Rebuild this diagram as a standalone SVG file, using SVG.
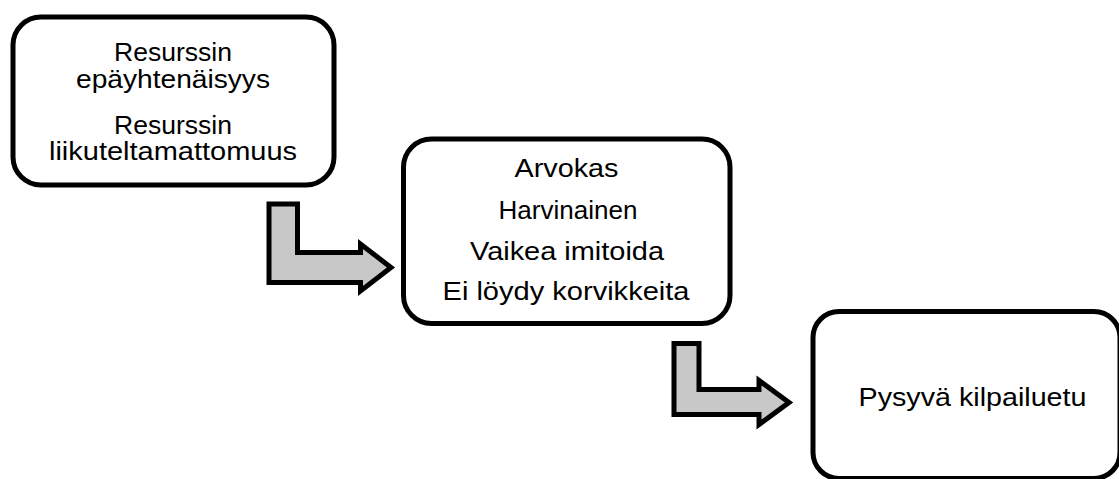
<svg xmlns="http://www.w3.org/2000/svg" width="1119" height="479" viewBox="0 0 1119 479">
<style>
.box{fill:#ffffff;stroke:#000000;stroke-width:5}
.arr{fill:#c8c8c8;stroke:#000000;stroke-width:5;stroke-linejoin:miter;stroke-miterlimit:10}
.t{font-family:"Liberation Sans",Arial,sans-serif;font-size:26.5px;fill:#000000;text-anchor:middle}
</style>
<rect width="1119" height="479" fill="#ffffff"/>
<g id="connectors">
<path class="arr" d="M269,204 L297.5,204 L297.5,252.5 L360.5,252.5 L360.5,244 L391,267.5 L360.5,291 L360.5,282.5 L269,282.5 Z"/>
<path class="arr" d="M674,343.5 L699,343.5 L699,389.5 L759,389.5 L759,380.5 L789,402.5 L759,424.5 L759,414.5 L674,414.5 Z"/>
</g>
<g id="node1">
<rect class="box" x="13" y="17" width="321" height="168" rx="28" ry="28"/>
<text class="t"><tspan x="173" y="61" textLength="118" lengthAdjust="spacingAndGlyphs">Resurssin</tspan><tspan x="173" y="87.5" textLength="194" lengthAdjust="spacingAndGlyphs">epäyhtenäisyys</tspan></text>
<text class="t"><tspan x="173" y="133.5" textLength="118" lengthAdjust="spacingAndGlyphs">Resurssin</tspan><tspan x="173" y="160" textLength="248" lengthAdjust="spacingAndGlyphs">liikuteltamattomuus</tspan></text>
</g>
<g id="node2">
<rect class="box" x="403.5" y="139" width="326.5" height="184.5" rx="28" ry="28"/>
<text class="t" x="566.5" y="176.5" textLength="104" lengthAdjust="spacingAndGlyphs">Arvokas</text>
<text class="t" x="568" y="219" textLength="139" lengthAdjust="spacingAndGlyphs">Harvinainen</text>
<text class="t" x="567" y="260" textLength="194" lengthAdjust="spacingAndGlyphs">Vaikea imitoida</text>
<text class="t" x="566" y="300" textLength="247" lengthAdjust="spacingAndGlyphs">Ei löydy korvikkeita</text>
</g>
<g id="node3">
<rect class="box" x="813" y="311.5" width="307" height="167" rx="26" ry="26"/>
<text class="t" x="972.5" y="406" textLength="228" lengthAdjust="spacingAndGlyphs">Pysyvä kilpailuetu</text>
</g>
</svg>
